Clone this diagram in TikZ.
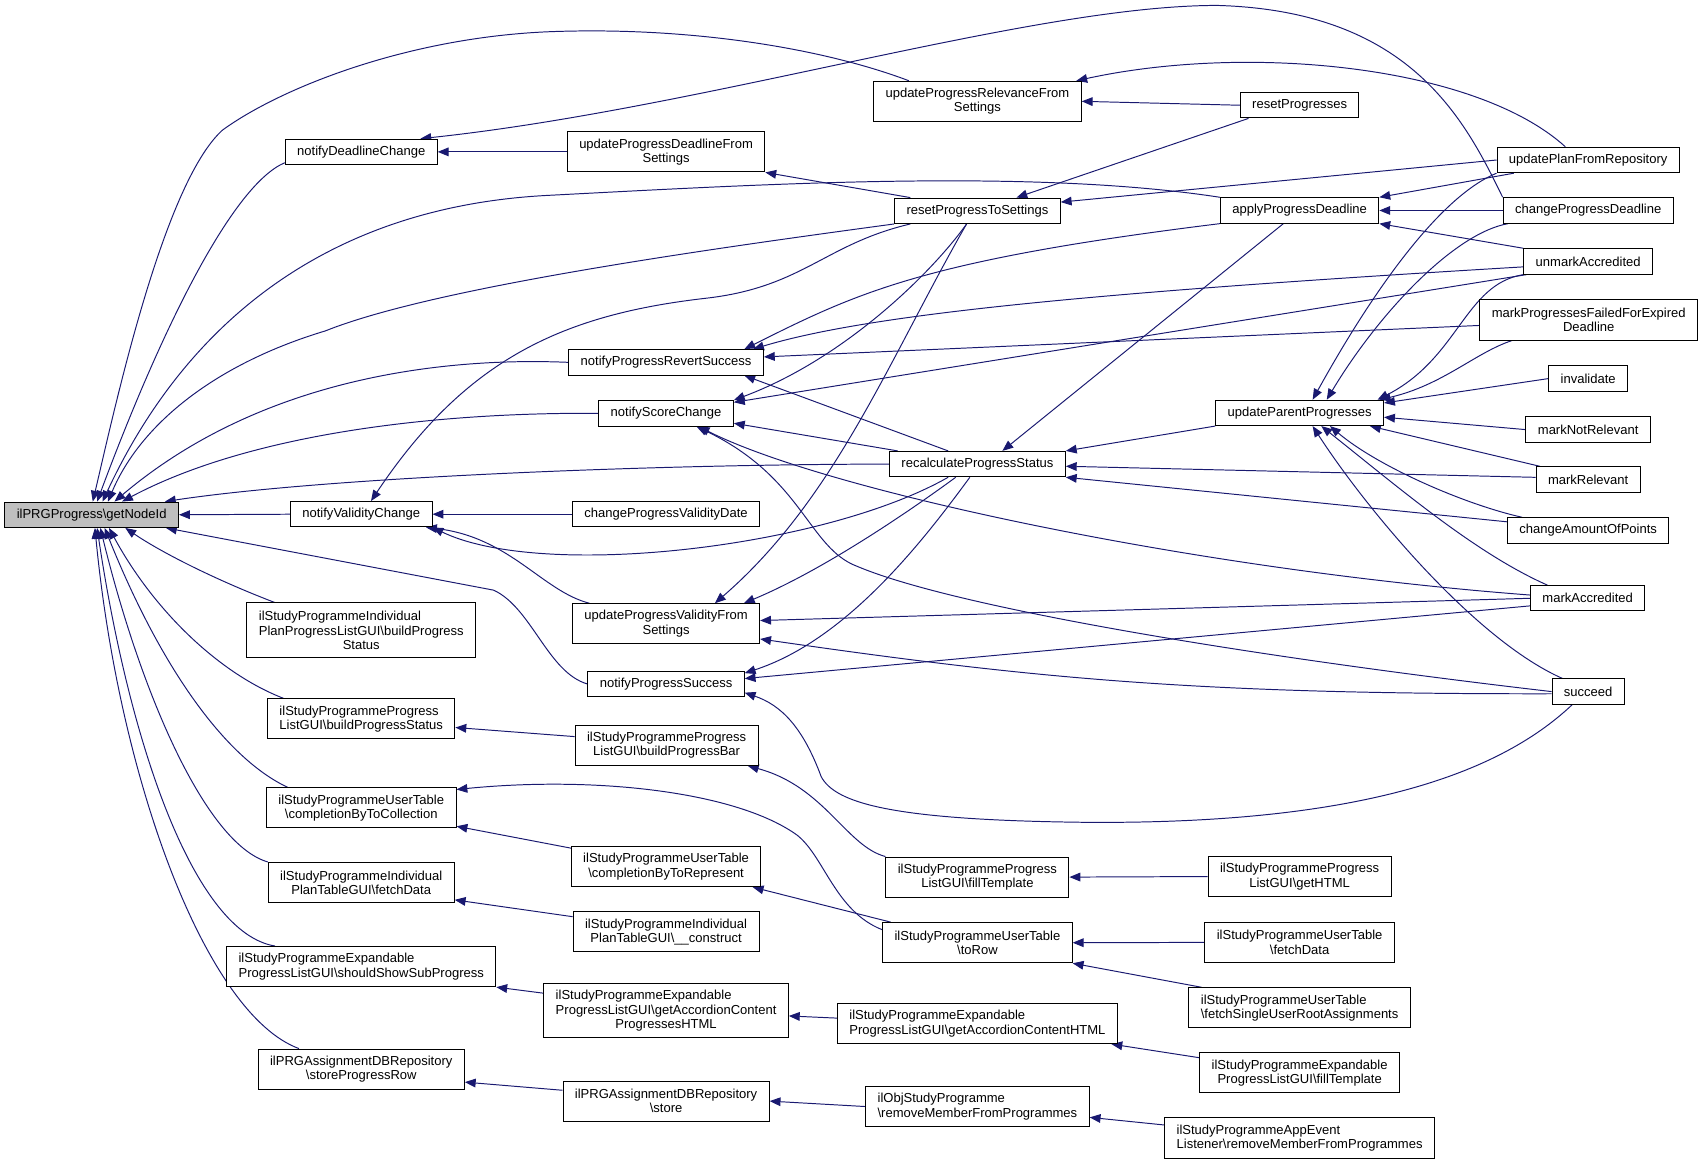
\documentclass[tikz,border=0pt]{standalone}
\usepackage{fontspec}
\setmainfont{Liberation Sans}
\usetikzlibrary{arrows.meta,backgrounds}
\definecolor{edgeBlue}{rgb}{0.1,0.1,0.44}
\definecolor{rootGrey}{rgb}{0.75,0.75,0.75}

\begin{document}
\begin{tikzpicture}[x=1pt, y=-1pt,
	fnBox/.style={draw=black, fill=white, line width=0.9pt, inner xsep=11pt, inner ysep=4pt, minimum height=23.4pt, align=center, font=\fontsize{12}{13.2}\selectfont},
	fnBoxTwo/.style={fnBox, minimum height=37pt},
	fnBoxThree/.style={fnBox, minimum height=50.4pt},
	rootBox/.style={fnBox, fill=rootGrey},
	callEdge/.style={draw=edgeBlue, line width=0.9pt, -{Triangle[length=10pt,width=8pt]}}]
	\useasboundingbox (0,0) rectangle (1568,1074);

	\node[rootBox] (getNodeId) at (84.5,474.5) {ilPRGProgress\textbackslash getNodeId};

	\node[fnBox] (notifyDeadlineChange) at (333,140) {notifyDeadlineChange};
	\node[fnBox] (notifyValidityChange) at (333,474) {notifyValidityChange};
	\node[fnBoxThree] (buildStatusIndividual) at (333,581) {\begin{tabular}[b]{@{}l@{}}ilStudyProgrammeIndividual\\PlanProgressListGUI\textbackslash buildProgress\end{tabular}\\Status};
	\node[fnBoxTwo, align=left] (buildStatusList) at (333,662.6) {ilStudyProgrammeProgress\\ListGUI\textbackslash buildProgressStatus};
	\node[fnBoxTwo] (completionByToCollection) at (333,744.7) {ilStudyProgrammeUserTable\\\textbackslash completionByToCollection};
	\node[fnBoxTwo] (planTableFetchData) at (333,813.5) {ilStudyProgrammeIndividual\\PlanTableGUI\textbackslash fetchData};
	\node[fnBoxTwo, align=left] (shouldShowSubProgress) at (333,891) {ilStudyProgrammeExpandable\\ProgressListGUI\textbackslash shouldShowSubProgress};
	\node[fnBoxTwo] (storeProgressRow) at (333,985.5) {ilPRGAssignmentDBRepository\\\textbackslash storeProgressRow};

	\node[fnBoxTwo] (updateProgressDeadline) at (614,140) {updateProgressDeadlineFrom\\Settings};
	\node[fnBox] (notifyProgressRevertSuccess) at (614,334) {notifyProgressRevertSuccess};
	\node[fnBox] (notifyScoreChange) at (614,381) {notifyScoreChange};
	\node[fnBox] (changeProgressValidityDate) at (614,474) {changeProgressValidityDate};
	\node[fnBoxTwo] (updateProgressValidity) at (614,575) {updateProgressValidityFrom\\Settings};
	\node[fnBox] (notifyProgressSuccess) at (614,630.5) {notifyProgressSuccess};
	\node[fnBoxTwo] (buildProgressBar) at (614.5,687) {ilStudyProgrammeProgress\\ListGUI\textbackslash buildProgressBar};
	\node[fnBoxTwo] (completionByToRepresent) at (614,798.8) {ilStudyProgrammeUserTable\\\textbackslash completionByToRepresent};
	\node[fnBoxTwo] (planTableConstruct) at (614,859) {ilStudyProgrammeIndividual\\PlanTableGUI\textbackslash \_\_construct};
	\node[fnBoxThree] (accordionProgresses) at (614,931.5) {\begin{tabular}[b]{@{}l@{}}ilStudyProgrammeExpandable\\ProgressListGUI\textbackslash getAccordionContent\end{tabular}\\ProgressesHTML};
	\node[fnBoxTwo] (store) at (614,1015) {ilPRGAssignmentDBRepository\\\textbackslash store};

	\node[fnBoxTwo] (updateProgressRelevance) at (901,93.4) {updateProgressRelevanceFrom\\Settings};
	\node[fnBox] (resetProgressToSettings) at (901,194.3) {resetProgressToSettings};
	\node[fnBox] (recalculateProgressStatus) at (901,427.8) {recalculateProgressStatus};
	\node[fnBoxTwo] (listFillTemplate) at (901,808.5) {ilStudyProgrammeProgress\\ListGUI\textbackslash fillTemplate};
	\node[fnBoxTwo] (toRow) at (901,869) {ilStudyProgrammeUserTable\\\textbackslash toRow};
	\node[fnBoxTwo, align=left] (accordionContent) at (901,943.5) {ilStudyProgrammeExpandable\\ProgressListGUI\textbackslash getAccordionContentHTML};
	\node[fnBoxTwo, align=left] (objRemoveMember) at (901,1020) {ilObjStudyProgramme\\\textbackslash removeMemberFromProgrammes};

	\node[fnBox] (resetProgresses) at (1198,97) {resetProgresses};
	\node[fnBox] (applyProgressDeadline) at (1198,194) {applyProgressDeadline};
	\node[fnBox] (updateParentProgresses) at (1198,380.6) {updateParentProgresses};
	\node[fnBoxTwo] (getHTML) at (1198,808) {ilStudyProgrammeProgress\\ListGUI\textbackslash getHTML};
	\node[fnBoxTwo] (userTableFetchData) at (1198,868.7) {ilStudyProgrammeUserTable\\\textbackslash fetchData};
	\node[fnBoxTwo, align=left] (fetchSingleUser) at (1198,929) {ilStudyProgrammeUserTable\\\textbackslash fetchSingleUserRootAssignments};
	\node[fnBoxTwo] (expandableFillTemplate) at (1198,989) {ilStudyProgrammeExpandable\\ProgressListGUI\textbackslash fillTemplate};
	\node[fnBoxTwo, align=left] (eventRemoveMember) at (1198,1049) {ilStudyProgrammeAppEvent\\Listener\textbackslash removeMemberFromProgrammes};

	\node[fnBox] (updatePlanFromRepository) at (1464,147.5) {updatePlanFromRepository};
	\node[fnBox] (changeProgressDeadline) at (1464,194) {changeProgressDeadline};
	\node[fnBox] (unmarkAccredited) at (1464,241) {unmarkAccredited};
	\node[fnBoxTwo] (markProgressesFailed) at (1464.5,295) {markProgressesFailedForExpired\\Deadline};
	\node[fnBox] (invalidate) at (1464,349) {invalidate};
	\node[fnBox] (markNotRelevant) at (1464,396) {markNotRelevant};
	\node[fnBox] (markRelevant) at (1464,442) {markRelevant};
	\node[fnBox] (changeAmountOfPoints) at (1464,489) {changeAmountOfPoints};
	\node[fnBox] (markAccredited) at (1463.5,551.5) {markAccredited};
	\node[fnBox] (succeed) at (1464,637.5) {succeed};

	\begin{scope}[on background layer]
	\draw[callEdge] ([xshift=33pt]updateProgressRelevance.north west) .. controls (760,45) and (640,25) .. (513,29) .. controls (380,33) and (260,80) .. (205,120) .. controls (150,170) and (105,380) .. ([xshift=1pt]getNodeId.north);
	\draw[callEdge] ([yshift=-10pt]notifyDeadlineChange.west) .. controls (215,170) and (150,300) .. ([xshift=5pt]getNodeId.north);
	\draw[callEdge] (applyProgressDeadline.north west) .. controls (950,155) and (700,170) .. (507,180) .. controls (300,190) and (170,300) .. ([xshift=10pt]getNodeId.north);
	\draw[callEdge] (resetProgressToSettings.south west) .. controls (650,230) and (400,265) .. (300,305) .. controls (200,335) and (130,390) .. ([xshift=15pt]getNodeId.north);
	\draw[callEdge] (notifyProgressRevertSuccess.west) .. controls (430,330) and (250,340) .. ([xshift=21pt]getNodeId.north);
	\draw[callEdge] (notifyScoreChange.west) .. controls (400,380) and (230,400) .. ([xshift=28pt]getNodeId.north);
	\draw[callEdge] (recalculateProgressStatus.west) .. controls (600,428) and (300,440) .. ([xshift=-13pt]getNodeId.north east);
	\draw[callEdge] (notifyValidityChange.west) -- (getNodeId.east);
	\draw[callEdge] (notifyProgressSuccess.west) .. controls (505,620) and (490,560) .. (455,544) -- ([xshift=-12pt]getNodeId.south east);
	\draw[callEdge] ([xshift=26pt]buildStatusIndividual.north west) .. controls (200,535) and (150,510) .. ([xshift=31pt]getNodeId.south);
	\draw[callEdge] ([xshift=15pt]buildStatusList.north west) .. controls (200,620) and (140,560) .. ([xshift=16pt]getNodeId.south);
	\draw[callEdge] ([xshift=20pt]completionByToCollection.north west) .. controls (210,700) and (150,620) .. ([xshift=12pt]getNodeId.south);
	\draw[callEdge] (planTableFetchData.north west) .. controls (190,778) and (130,640) .. ([xshift=8pt]getNodeId.south);
	\draw[callEdge] ([xshift=45pt]shouldShowSubProgress.north west) .. controls (180,860) and (120,690) .. ([xshift=5pt]getNodeId.south);
	\draw[callEdge] ([xshift=38pt]storeProgressRow.north west) .. controls (190,935) and (110,720) .. ([xshift=3pt]getNodeId.south);

	\draw[callEdge] (updateProgressDeadline.west) -- (notifyDeadlineChange.east);
	\draw[callEdge] (changeProgressDeadline.north west) .. controls (1350,110) and (1300,10) .. (1122,5) .. controls (950,5) and (650,100) .. ([xshift=-16pt]notifyDeadlineChange.north east);
	\draw[callEdge] ([xshift=15pt]resetProgressToSettings.north west) -- (updateProgressDeadline.south east);
	\draw[callEdge] (resetProgresses.west) -- (updateProgressRelevance.east);
	\draw[callEdge] ([xshift=-21pt]updatePlanFromRepository.north) .. controls (1360,60) and (1150,40) .. ([xshift=-5pt]updateProgressRelevance.north east);
	\draw[callEdge] ([xshift=8pt]resetProgresses.south west) -- ([xshift=36pt]resetProgressToSettings.north);
	\draw[callEdge] (updatePlanFromRepository.west) -- ([yshift=8pt]resetProgressToSettings.east);
	\draw[callEdge] ([xshift=16pt]updatePlanFromRepository.south west) -- (applyProgressDeadline.north east);
	\draw[callEdge] (changeProgressDeadline.west) -- (applyProgressDeadline.east);
	\draw[callEdge] (unmarkAccredited.north west) -- (applyProgressDeadline.south east);

	\draw[callEdge] (updatePlanFromRepository.south west) .. controls (1330,180) and (1270,260) .. ([xshift=12pt]updateParentProgresses.north);
	\draw[callEdge] ([xshift=5pt]changeProgressDeadline.south west) .. controls (1340,215) and (1270,290) .. ([xshift=25pt]updateParentProgresses.north);
	\draw[callEdge] (unmarkAccredited.south west) .. controls (1350,262) and (1345,330) .. ([xshift=-6pt]updateParentProgresses.north east);
	\draw[callEdge] ([xshift=30pt]markProgressesFailed.south west) .. controls (1360,325) and (1330,355) .. ([xshift=-4pt]updateParentProgresses.north east);
	\draw[callEdge] (invalidate.west) -- ([yshift=-3pt]updateParentProgresses.north east);
	\draw[callEdge] (markNotRelevant.west) -- ([yshift=-4pt]updateParentProgresses.east);
	\draw[callEdge] ([xshift=4pt]markRelevant.north west) -- ([xshift=-13pt]updateParentProgresses.south east);
	\draw[callEdge] ([xshift=14pt]changeAmountOfPoints.north west) .. controls (1350,465) and (1270,430) .. ([xshift=28pt]updateParentProgresses.south);
	\draw[callEdge] ([xshift=16pt]markAccredited.north west) .. controls (1360,510) and (1290,450) .. ([xshift=20pt]updateParentProgresses.south);
	\draw[callEdge] ([xshift=10pt]succeed.north west) .. controls (1360,590) and (1260,470) .. ([xshift=12pt]updateParentProgresses.south);

	\draw[callEdge] (updateParentProgresses.south west) -- (recalculateProgressStatus.north east);
	\draw[callEdge] ([yshift=2pt]markRelevant.west) -- ([yshift=-2pt]recalculateProgressStatus.east);
	\draw[callEdge] ([yshift=8pt]changeAmountOfPoints.west) -- (recalculateProgressStatus.south east);
	\draw[callEdge] ([xshift=-15pt]applyProgressDeadline.south) -- ([xshift=23pt]recalculateProgressStatus.north);
	\draw[callEdge] ([xshift=8pt]recalculateProgressStatus.north west) -- ([yshift=3pt]notifyScoreChange.south east);
	\draw[callEdge] ([xshift=-27pt]recalculateProgressStatus.north) -- ([xshift=-18pt]notifyProgressRevertSuccess.south east);
	\draw[callEdge] ([xshift=-27pt]recalculateProgressStatus.south) .. controls (760,505) and (500,535) .. (notifyValidityChange.south east);
	\draw[callEdge] ([xshift=-20pt]recalculateProgressStatus.south) .. controls (840,470) and (760,525) .. ([xshift=-15pt]updateProgressValidity.north east);
	\draw[callEdge] ([xshift=-7pt]recalculateProgressStatus.south) .. controls (850,500) and (780,590) .. ([yshift=10pt]notifyProgressSuccess.east);

	\draw[callEdge] ([xshift=15pt]resetProgressToSettings.south west) .. controls (760,225) and (740,265) .. (650,275) .. controls (520,290) and (430,330) .. ([xshift=9pt]notifyValidityChange.north);
	\draw[callEdge] ([xshift=-10pt]resetProgressToSettings.south) .. controls (860,250) and (780,330) .. (notifyScoreChange.north east);
	\draw[callEdge] ([xshift=-10pt]resetProgressToSettings.south) .. controls (820,330) and (770,460) .. ([xshift=45pt]updateProgressValidity.north);
	\draw[callEdge] (applyProgressDeadline.south west) .. controls (850,240) and (790,270) .. ([xshift=-18pt]notifyProgressRevertSuccess.north east);
	\draw[callEdge] ([yshift=-5pt]unmarkAccredited.west) .. controls (1000,270) and (800,290) .. ([xshift=-10pt]notifyProgressRevertSuccess.north east);
	\draw[callEdge] ([yshift=-5pt]markProgressesFailed.west) -- ([yshift=5pt]notifyProgressRevertSuccess.east);
	\draw[callEdge] ([xshift=3pt]unmarkAccredited.south west) -- ([yshift=-2pt]notifyScoreChange.north east);
	\draw[callEdge] ([yshift=3pt]markAccredited.west) .. controls (1100,525) and (760,452) .. ([xshift=30pt]notifyScoreChange.south);
	\draw[callEdge] (succeed.west) .. controls (1150,605) and (880,560) .. (790,522) .. controls (745,505) and (740,440) .. ([xshift=28pt]notifyScoreChange.south);
	\draw[callEdge] (markAccredited.west) -- ([yshift=3pt]updateProgressValidity.east);
	\draw[callEdge] ([yshift=-2pt]succeed.west) .. controls (1100,640) and (950,625) .. ([yshift=-14pt]updateProgressValidity.east);
	\draw[callEdge] ([yshift=-7pt]markAccredited.west) -- ([yshift=5pt]notifyProgressSuccess.east);
	\draw[callEdge] ([xshift=19pt]succeed.south west) .. controls (1380,715) and (1250,760) .. (1000,758) .. controls (820,756) and (770,740) .. (757,716) .. controls (740,670) and (720,650) .. ([yshift=-8pt]notifyProgressSuccess.east);
	\draw[callEdge] (changeProgressValidityDate.west) -- (notifyValidityChange.east);
	\draw[callEdge] ([xshift=16pt]updateProgressValidity.north west) .. controls (500,545) and (470,495) .. ([xshift=-6pt]notifyValidityChange.south east);

	\draw[callEdge] ([yshift=8pt]buildProgressBar.west) -- ([yshift=-8pt]buildStatusList.east);
	\draw[callEdge] (listFillTemplate.north west) .. controls (780,780) and (760,725) .. ([xshift=-10pt]buildProgressBar.south east);
	\draw[callEdge] (getHTML.west) -- (listFillTemplate.east);
	\draw[callEdge] ([yshift=12pt]toRow.west) .. controls (770,840) and (760,790) .. (735,770) .. controls (680,730) and (550,715) .. ([yshift=-2pt]completionByToCollection.north east);
	\draw[callEdge] ([yshift=17pt]completionByToRepresent.west) -- ([yshift=2pt]completionByToCollection.south east);
	\draw[callEdge] ([xshift=8pt]toRow.north west) -- ([xshift=-8pt]completionByToRepresent.south east);
	\draw[callEdge] (userTableFetchData.west) -- (toRow.east);
	\draw[callEdge] ([xshift=12pt]fetchSingleUser.north west) -- (toRow.south east);
	\draw[callEdge] ([yshift=14pt]planTableConstruct.west) -- ([yshift=-16pt]planTableFetchData.east);
	\draw[callEdge] ([yshift=16pt]accordionProgresses.west) -- (shouldShowSubProgress.south east);
	\draw[callEdge] ([yshift=5pt]accordionContent.west) -- ([yshift=-5pt]accordionProgresses.east);
	\draw[callEdge] ([yshift=14pt]expandableFillTemplate.west) -- ([xshift=-6pt]accordionContent.south east);
	\draw[callEdge] ([yshift=10pt]store.west) -- ([yshift=-12pt]storeProgressRow.east);
	\draw[callEdge] (objRemoveMember.west) -- (store.east);
	\draw[callEdge] ([yshift=12pt]eventRemoveMember.west) -- ([yshift=-10pt]objRemoveMember.east);
	\end{scope}
\end{tikzpicture}
\end{document}
